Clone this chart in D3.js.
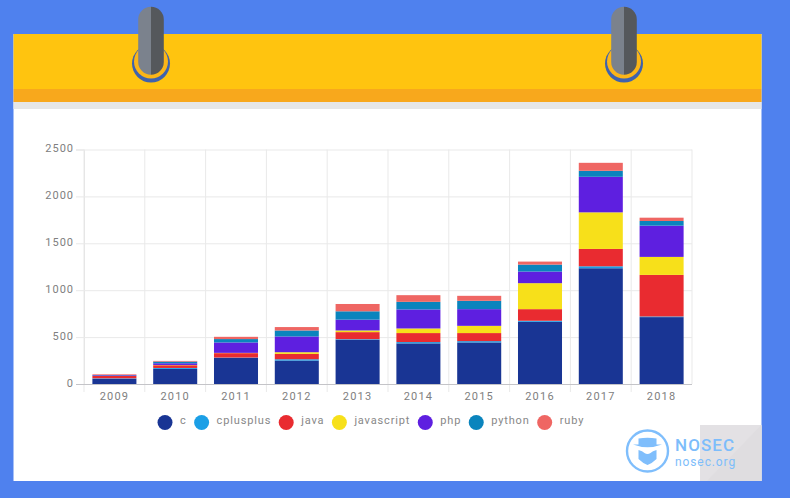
<!DOCTYPE html>
<html>
<head>
<meta charset="utf-8">
<script src="https://cdn.jsdelivr.net/npm/d3@7"></script>
<style>
  html, body { margin: 0; padding: 0; background: #4f81ee; overflow: hidden; }
  svg { display: block; }
  text { font-family: Roboto, "Noto Sans", sans-serif; }
</style>
</head>
<body>
<svg id="chart" width="790" height="498"></svg>
<script>
// values
const years = ["2009", "2010", "2011", "2012", "2013", "2014", "2015", "2016", "2017", "2018"];
const c = [57, 161, 279, 250, 471, 433, 443, 663, 1234, 713];
const cplusplus = [4, 10, 3, 14, 7, 14, 14, 11, 21, 7];
const java = [25, 29, 47, 57, 75, 96, 86, 124, 185, 443];
const javascript = [0, 3, 3, 18, 18, 49, 77, 277, 390, 192];
const php = [7, 18, 111, 168, 115, 203, 178, 124, 379, 333];
const python = [3, 18, 36, 64, 89, 81, 89, 74, 64, 50];
const ruby = [7, 7, 24, 36, 78, 71, 53, 32, 85, 35];
const yTicks = [0, 500, 1000, 1500, 2000, 2500];
const seriesNames = ["c", "cplusplus", "java", "javascript", "php", "python", "ruby"];
const seriesValues = [c, cplusplus, java, javascript, php, python, ruby];
const seriesColors = ["#193594", "#1b9fe6", "#e92b30", "#f7e01a", "#5e1fe0", "#0a84bd", "#ef6663"];

const svg = d3.select("#chart");

// calendar page behind the chart
svg.append("rect").attr("x", 13.5).attr("y", 34).attr("width", 748).attr("height", 447).attr("fill", "#fff");
svg.append("rect").attr("x", 13.5).attr("y", 34).attr("width", 748).attr("height", 55).attr("fill", "#ffc40f");
svg.append("rect").attr("x", 13.5).attr("y", 89).attr("width", 748).attr("height", 13).attr("fill", "#f8a81c");
svg.append("rect").attr("x", 13.5).attr("y", 102).attr("width", 748).attr("height", 7).attr("fill", "#e6e6e6");

// binder rings
[151, 624].forEach(cx => {
  const g = svg.append("g").attr("transform", `translate(${cx},0)`);
  g.append("circle").attr("cy", 63.6).attr("r", 19).attr("fill", "#3f62ad");
  g.append("circle").attr("cy", 61.5).attr("r", 17).attr("fill", "#fbb518");
  g.append("path").attr("fill", "#7b828d")
    .attr("d", "M0,6.7 A12.8,12.8 0 0 0 -12.8,19.5 V62 A12.8,12.8 0 0 0 0,74.7 Z");
  g.append("path").attr("fill", "#55585c")
    .attr("d", "M0,6.7 A12.8,12.8 0 0 1 12.8,19.5 V62 A12.8,12.8 0 0 1 0,74.7 Z");
});

// chart scales
const x = d3.scaleBand().domain(years).range([84, 692]).paddingInner(0.276).paddingOuter(0.138);
const y = d3.scaleLinear().domain([0, 2500]).range([384, 149.5]);
const step = x.step();

// y axis with horizontal grid
const yAxis = svg.append("g")
  .attr("transform", "translate(84,0)")
  .call(d3.axisLeft(y).tickValues(yTicks).tickFormat(d3.format("d")).tickSize(8).tickPadding(2));
yAxis.select(".domain").attr("stroke", "#e2e2e2");
yAxis.selectAll(".tick line").clone()
  .attr("x2", 608).attr("stroke", "#e9e9e9");
yAxis.selectAll(".tick line").attr("stroke", "#e9e9e9");
yAxis.selectAll("text").attr("fill", "#808080").attr("font-size", 11).attr("letter-spacing", 1)
  .attr("dy", "0.2em");

// vertical grid lines on the band edges
svg.append("g").selectAll("line")
  .data(years.concat("end"))
  .join("line")
  .attr("x1", (d, i) => 84 + i * step)
  .attr("x2", (d, i) => 84 + i * step)
  .attr("y1", 149.5)
  .attr("y2", (d, i) => i < years.length ? 392 : 384)
  .attr("stroke", "#e9e9e9");

// stacked bars
const rows = years.map((year, i) => {
  const row = { year };
  seriesNames.forEach((name, s) => { row[name] = seriesValues[s][i]; });
  return row;
});
const stacked = d3.stack().keys(seriesNames)(rows);
svg.append("g").selectAll("g")
  .data(stacked)
  .join("g")
  .attr("fill", (d, i) => seriesColors[i])
  .selectAll("rect")
  .data(d => d)
  .join("rect")
  .attr("x", d => x(d.data.year))
  .attr("y", d => y(d[1]))
  .attr("width", x.bandwidth())
  .attr("height", d => y(d[0]) - y(d[1]));

// x axis
const xAxis = svg.append("g")
  .attr("transform", "translate(0,384)")
  .call(d3.axisBottom(x).tickSize(0).tickPadding(8).tickSizeOuter(0));
xAxis.select(".domain").attr("stroke", "#c4c4c8").attr("stroke-width", 1.2).attr("d", "M76,0.5H692");
xAxis.selectAll("text").attr("fill", "#808080").attr("font-size", 11).attr("letter-spacing", 1.2);

// legend, laid out left to right from the measured labels
const legend = svg.append("g").attr("transform", "translate(0,422.5)");
let cursor = 165;
seriesNames.forEach((name, i) => {
  legend.append("circle").attr("cx", cursor).attr("r", 7.5).attr("fill", seriesColors[i]);
  const label = legend.append("text")
    .attr("x", cursor + 15).attr("dy", "0.18em")
    .attr("font-size", 11).attr("letter-spacing", 0.85)
    .attr("fill", "#888").text(name);
  cursor += 15 + label.node().getComputedTextLength() + 15;
});

// folded corner
svg.append("rect").attr("x", 700).attr("y", 425).attr("width", 61.5).attr("height", 56).attr("fill", "#e3e1e4");
svg.append("path").attr("d", "M761.5,425 V481 H707 Z").attr("fill", "#dfdde0");

// watermark logo
const logo = svg.append("g").attr("transform", "translate(647.5,451)");
logo.append("circle").attr("r", 20.5).attr("fill", "none").attr("stroke", "#7fbefc").attr("stroke-width", 2.4);
logo.append("path").attr("fill", "#7fbefc")
  .attr("d", "M-9,-12.5 Q0,-14 9,-12.5 V-6.5 L14.5,-6.5 Q0,-1 -14.5,-6.5 L-9,-6.5 Z");
logo.append("path").attr("fill", "#7fbefc")
  .attr("d", "M-9,-1 Q-5,0 -3,2 Q0,4 3,2 Q5,0 9,-1 V8 Q5,12 0,14 Q-5,12 -9,8 Z");
svg.append("text").attr("x", 675).attr("y", 450.5)
  .attr("font-size", 17).attr("font-weight", 500).attr("letter-spacing", 1.1).attr("fill", "#7dbdfb").text("NOSEC");
svg.append("text").attr("x", 675).attr("y", 466)
  .attr("font-size", 12).attr("letter-spacing", 0.9).attr("fill", "#7dbdfb").text("nosec.org");
</script>
</body>
</html>
